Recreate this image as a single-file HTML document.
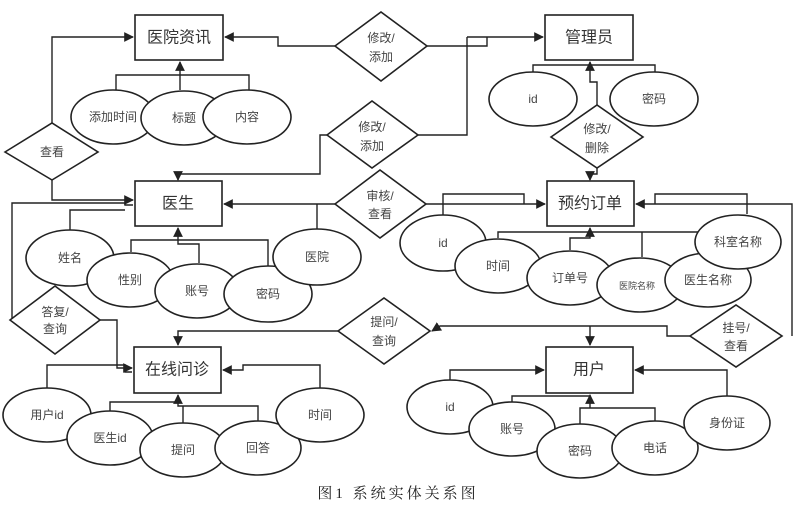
<!DOCTYPE html>
<html><head><meta charset="utf-8"><style>
html,body{margin:0;padding:0;background:#fff;}
svg{display:block;}
text{font-family:"Liberation Sans","Noto Sans CJK SC",sans-serif;fill:#444;text-anchor:middle;dominant-baseline:central;}
.e{font-size:12px;}
.b{font-size:16px;fill:#333;}
.d{font-size:12px;}
</style></head><body>
<svg width="800" height="511" viewBox="0 0 800 511" xmlns="http://www.w3.org/2000/svg">
<defs><marker id="a" viewBox="0 0 10 10" refX="9" refY="5" markerWidth="7" markerHeight="7" orient="auto"><path d="M0,0L10,5L0,10z" fill="#222"/></marker></defs>
<g fill="none" stroke="#222" stroke-width="1.6">
<rect x="135" y="15" width="88" height="45"/>
<rect x="545" y="15" width="88" height="45"/>
<rect x="135" y="181" width="87" height="45"/>
<rect x="547" y="181" width="87" height="45"/>
<rect x="134" y="347" width="87" height="46"/>
<rect x="546" y="347" width="87" height="46"/>
<polygon points="335,46 381,12 427,46 381,81"/>
<polygon points="5,152 52,123 98,152 52,180"/>
<polygon points="327,135 372,101 418,135 372,168"/>
<polygon points="335,204 380,170 426,204 380,238"/>
<polygon points="551,137 597,105 643,137 597,168"/>
<polygon points="10,320 55,286 100,320 55,354"/>
<polygon points="338,331 384,298 430,331 384,364"/>
<polygon points="690,336 736,305 782,336 736,367"/>
</g>
<g fill="none" stroke="#222" stroke-width="1.4">
<polyline points="335,46 278,46 278,37 225,37" marker-end="url(#a)"/>
<polyline points="427,46 487,46 487,37"/>
<polyline points="467,37 543,37" marker-end="url(#a)"/>
<polyline points="467,37 467,135 418,135"/>
<polyline points="327,135 320,135 320,174 178,174 178,180" marker-end="url(#a)"/>
<polyline points="52,123 52,37 133,37" marker-end="url(#a)"/>
<polyline points="52,180 52,200 133,200" marker-end="url(#a)"/>
<polyline points="12,318 12,203 125,203 125,205 133,205"/>
<polyline points="335,204 224,204" marker-end="url(#a)"/>
<polyline points="426,204 545,204" marker-end="url(#a)"/>
<polyline points="597,105 597,82 590,82 590,62" marker-end="url(#a)"/>
<polyline points="597,168 597,174 590,174 590,180" marker-end="url(#a)"/>
<polyline points="792,336 792,204 636,204" marker-end="url(#a)"/>
<polyline points="690,336 667,336 667,326 440,326 432,331" marker-end="url(#a)"/>
<polyline points="590,326 590,345" marker-end="url(#a)"/>
<polyline points="338,331 178,331 178,345" marker-end="url(#a)"/>
<polyline points="100,320 117,320 117,368 132,368" marker-end="url(#a)"/>
<polyline points="47,388 47,365 125,365 125,372 132,372"/>
<polyline points="320,390 320,365 243,365 243,370 223,370" marker-end="url(#a)"/>
<polyline points="116,90 116,75 249,75 249,90"/>
<polyline points="180,90 180,75"/>
<polyline points="180,75 180,62" marker-end="url(#a)"/>
<polyline points="533,72 533,65 655,65 655,72"/>
<polyline points="70,230 70,210 125,210"/>
<polyline points="131,252 131,240 268,240 268,266"/>
<polyline points="199,263 199,244 178,244 178,228" marker-end="url(#a)"/>
<polyline points="317,229 317,204"/>
<polyline points="443,215 443,194 524,194 524,204"/>
<polyline points="498,238 498,232 705,232"/>
<polyline points="570,250 570,238 590,238 590,228" marker-end="url(#a)"/>
<polyline points="642,257 642,232"/>
<polyline points="747,214 747,194 655,194 655,204"/>
<polyline points="110,411 110,402 178,402"/>
<polyline points="183,423 183,406"/>
<polyline points="258,421 258,406 178,406 178,395" marker-end="url(#a)"/>
<polyline points="450,380 450,370 544,370" marker-end="url(#a)"/>
<polyline points="512,402 512,396 590,396 590,395" marker-end="url(#a)"/>
<polyline points="580,424 580,408 655,408 655,421"/>
<polyline points="590,408 590,396"/>
<polyline points="727,396 727,370 635,370" marker-end="url(#a)"/>
</g>
<g fill="#fff" stroke="#222" stroke-width="1.6">
<ellipse cx="113" cy="117" rx="42" ry="27"/>
<ellipse cx="184" cy="118" rx="43" ry="27"/>
<ellipse cx="247" cy="117" rx="44" ry="27"/>
<ellipse cx="533" cy="99" rx="44" ry="27"/>
<ellipse cx="654" cy="99" rx="44" ry="27"/>
<ellipse cx="70" cy="258" rx="44" ry="28"/>
<ellipse cx="130" cy="280" rx="43" ry="27"/>
<ellipse cx="197" cy="291" rx="42" ry="27"/>
<ellipse cx="268" cy="294" rx="44" ry="28"/>
<ellipse cx="317" cy="257" rx="44" ry="28"/>
<ellipse cx="443" cy="243" rx="43" ry="28"/>
<ellipse cx="498" cy="266" rx="43" ry="27"/>
<ellipse cx="570" cy="278" rx="43" ry="27"/>
<ellipse cx="640" cy="285" rx="43" ry="27"/>
<ellipse cx="708" cy="280" rx="43" ry="27"/>
<ellipse cx="738" cy="242" rx="43" ry="27"/>
<ellipse cx="47" cy="415" rx="44" ry="27"/>
<ellipse cx="110" cy="438" rx="43" ry="27"/>
<ellipse cx="183" cy="450" rx="43" ry="27"/>
<ellipse cx="258" cy="448" rx="43" ry="27"/>
<ellipse cx="320" cy="415" rx="44" ry="27"/>
<ellipse cx="450" cy="407" rx="43" ry="27"/>
<ellipse cx="512" cy="429" rx="43" ry="27"/>
<ellipse cx="580" cy="451" rx="43" ry="27"/>
<ellipse cx="655" cy="448" rx="43" ry="27"/>
<ellipse cx="727" cy="423" rx="43" ry="27"/>
</g>
<g>
<text class="b" x="179" y="38">医院资讯</text>
<text class="b" x="589" y="38">管理员</text>
<text class="b" x="178" y="204">医生</text>
<text class="b" x="590" y="204">预约订单</text>
<text class="b" x="177" y="370">在线问诊</text>
<text class="b" x="589" y="370">用户</text>
<text class="d" x="381" y="38">修改/</text><text class="d" x="381" y="57">添加</text>
<text class="d" x="52" y="152">查看</text>
<text class="d" x="372" y="127">修改/</text><text class="d" x="372" y="146">添加</text>
<text class="d" x="380" y="196">审核/</text><text class="d" x="380" y="214">查看</text>
<text class="d" x="597" y="129">修改/</text><text class="d" x="597" y="148">删除</text>
<text class="d" x="55" y="312">答复/</text><text class="d" x="55" y="329">查询</text>
<text class="d" x="384" y="322">提问/</text><text class="d" x="384" y="341">查询</text>
<text class="d" x="736" y="328">挂号/</text><text class="d" x="736" y="346">查看</text>
<text class="e" x="113" y="117">添加时间</text>
<text class="e" x="184" y="118">标题</text>
<text class="e" x="247" y="117">内容</text>
<text class="e" x="533" y="99">id</text>
<text class="e" x="654" y="99">密码</text>
<text class="e" x="70" y="258">姓名</text>
<text class="e" x="130" y="280">性别</text>
<text class="e" x="197" y="291">账号</text>
<text class="e" x="268" y="294">密码</text>
<text class="e" x="317" y="257">医院</text>
<text class="e" x="443" y="243">id</text>
<text class="e" x="498" y="266">时间</text>
<text class="e" x="570" y="278">订单号</text>
<text class="e" x="637" y="286" style="font-size:9px">医院名称</text>
<text class="e" x="708" y="280">医生名称</text>
<text class="e" x="738" y="242">科室名称</text>
<text class="e" x="47" y="415">用户id</text>
<text class="e" x="110" y="438">医生id</text>
<text class="e" x="183" y="450">提问</text>
<text class="e" x="258" y="448">回答</text>
<text class="e" x="320" y="415">时间</text>
<text class="e" x="450" y="407">id</text>
<text class="e" x="512" y="429">账号</text>
<text class="e" x="580" y="451">密码</text>
<text class="e" x="655" y="448">电话</text>
<text class="e" x="727" y="423">身份证</text>
<text x="398" y="494" style="font-family:'Liberation Serif','Noto Serif CJK SC',serif;font-size:15px;fill:#222;letter-spacing:3px">图1 系统实体关系图</text>
</g>
</svg>
</body></html>
